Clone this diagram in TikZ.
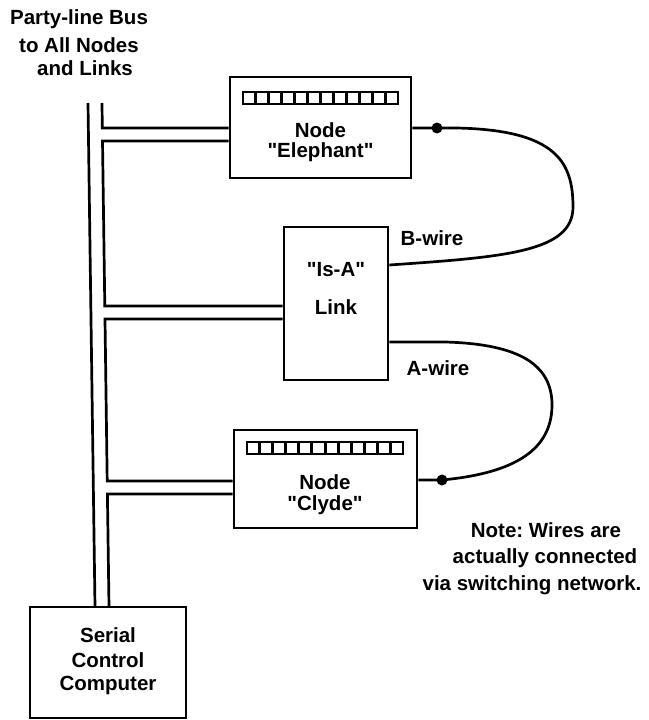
\documentclass[tikz,border=0pt]{standalone}
\usepackage{fontspec}
\newfontfamily\libsans{Liberation Sans}
\usetikzlibrary{calc}
\frenchspacing
\begin{document}
\begin{tikzpicture}[x=1pt,y=-1pt,
  box/.style={draw,line width=2.6pt,inner sep=0pt},
  wire/.style={line width=2.7pt},
  lbl/.style={font=\libsans\fontsize{20.5}{24}\selectfont\bfseries,inner sep=0pt,align=center},
  dot/.style={circle,fill,inner sep=0pt,minimum size=11pt},
  strip/.style={draw,line width=2pt,inner sep=0pt,minimum height=12pt}]
\useasboundingbox (0,0) rectangle (648,720);
% boxes
\node[box,minimum width=181pt,minimum height=101pt] (eleph) at (320.5,127.5) {};
\node[box,minimum width=104pt,minimum height=153pt] (link) at (336,303.5) {};
\node[box,minimum width=183pt,minimum height=98pt] (clyde) at (325.5,479) {};
\node[box,minimum width=156pt,minimum height=111pt] (comp) at (108,662.5) {};
% strips
\node[strip,minimum width=155pt] (es) at (320.5,97.5) {};
\node[strip,minimum width=156pt] (cs) at (325,447.5) {};
\foreach \i in {1,...,11}{
  \draw[line width=3pt] ($(es.west)!\i/12!(es.east)+(0,-6)$) -- ($(es.west)!\i/12!(es.east)+(0,6)$);
  \draw[line width=3pt] ($(cs.west)!\i/12!(cs.east)+(0,-6)$) -- ($(cs.west)!\i/12!(cs.east)+(0,6)$);
}
% texts
\node[lbl] (t1) at (79,19) {Party-line Bus};
\node[lbl] (t2) at (79,45) {to All Nodes};
\node[lbl] (t3) at (85,68) {and Links};
\node[lbl] (e1) at (320.5,130) {Node};
\node[lbl] (e2) at (320.5,152) {"Elephant"};
\node[lbl] (l1) at (336,270) {"Is-A"};
\node[lbl] (l2) at (336,307) {Link};
\node[lbl] (c1) at (325,482) {Node};
\node[lbl] (c2) at (325,505) {"Clyde"};
\node[lbl] (s1) at (108,635) {Serial};
\node[lbl] (s2) at (108,660) {Control};
\node[lbl] (s3) at (108,685) {Computer};
\node[lbl] (bw) at (432,238) {B-wire};
\node[lbl] (aw) at (438,368) {A-wire};
\node[lbl] (n1) at (546,530) {Note: Wires are};
\node[lbl] (n2) at (545,558) {actually connected};
\node[lbl] (n3) at (532,585) {via switching network.};
% bus coordinates
\coordinate (o0) at (88,103);
\coordinate (o1) at (95,607);
\coordinate (i0) at (102,103);
\coordinate (i1) at (102.3,128);
\coordinate (i2) at (102.5,141);
\coordinate (i3) at (104.8,306);
\coordinate (i4) at (105,319);
\coordinate (i5) at (107.2,481);
\coordinate (i6) at (107.4,494);
\coordinate (i7) at (109,607);
\draw[wire] (o0) -- (o1);
\draw[wire] (i0) -- (i1) -- (eleph.west |- i1);
\draw[wire] (eleph.west |- i2) -- (i2) -- (i3) -- (link.west |- i3);
\draw[wire] (link.west |- i4) -- (i4) -- (i5) -- (clyde.west |- i5);
\draw[wire] (clyde.west |- i6) -- (i6) -- (i7);
% wires
\node[dot] (ed) at (437,128) {};
\node[dot] (cd) at (442,480) {};
\coordinate (lb) at (388,265);
\coordinate (la) at (388,342);
\draw[wire] (eleph.east |- ed) -- (ed.center)
  .. controls (555,126) and (573,160) .. (573,207)
  .. controls (573,252) and (505,257) .. (link.east |- lb);
\draw[wire] (link.east |- la) -- (445,342)
  .. controls (520,344) and (552,365) .. (552,405)
  .. controls (552,455) and (505,474) .. (cd.center) -- (clyde.east |- cd);
\end{tikzpicture}
\end{document}
